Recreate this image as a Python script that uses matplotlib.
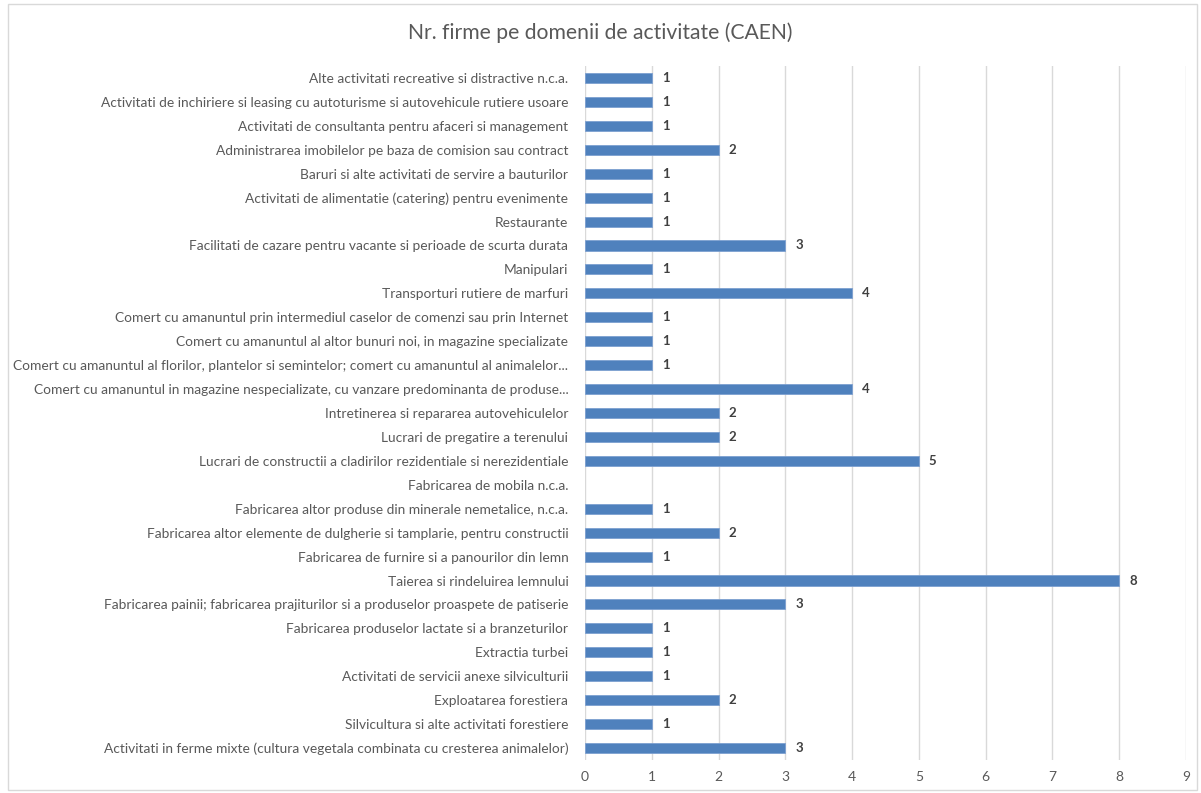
import matplotlib.pyplot as plt
from matplotlib.patches import Rectangle

# ── Data (top to bottom as in the chart) ───────────────────────────────────────
categories = [
    "Alte activitati recreative si distractive n.c.a.",
    "Activitati de inchiriere si leasing cu autoturisme si autovehicule rutiere usoare",
    "Activitati de consultanta pentru afaceri si management",
    "Administrarea imobilelor pe baza de comision sau contract",
    "Baruri si alte activitati de servire a bauturilor",
    "Activitati de alimentatie (catering) pentru evenimente",
    "Restaurante",
    "Facilitati de cazare pentru vacante si perioade de scurta durata",
    "Manipulari",
    "Transporturi rutiere de marfuri",
    "Comert cu amanuntul prin intermediul caselor de comenzi sau prin Internet",
    "Comert cu amanuntul al altor bunuri noi, in magazine specializate",
    "Comert cu amanuntul al florilor, plantelor si semintelor; comert cu amanuntul al animalelor...",
    "Comert cu amanuntul in magazine nespecializate, cu vanzare predominanta de produse...",
    "Intretinerea si repararea autovehiculelor",
    "Lucrari de pregatire a terenului",
    "Lucrari de constructii a cladirilor rezidentiale si nerezidentiale",
    "Fabricarea de mobila n.c.a.",
    "Fabricarea altor produse din minerale nemetalice, n.c.a.",
    "Fabricarea altor elemente de dulgherie si tamplarie, pentru constructii",
    "Fabricarea de furnire si a panourilor din lemn",
    "Taierea si rindeluirea lemnului",
    "Fabricarea painii; fabricarea prajiturilor si a produselor proaspete de patiserie",
    "Fabricarea produselor lactate si a branzeturilor",
    "Extractia turbei",
    "Activitati de servicii anexe silviculturii",
    "Exploatarea forestiera",
    "Silvicultura si alte activitati forestiere",
    "Activitati in ferme mixte (cultura vegetala combinata cu cresterea animalelor)",
]
values = [1, 1, 1, 2, 1, 1, 1, 3, 1, 4, 1, 1, 1, 4, 2, 2, 5, None, 1, 2, 1, 8, 3, 1, 1, 1, 2, 1, 3]
x_ticks = list(range(0, 10))

BAR_COLOR = '#4F81BD'
TEXT_COLOR = '#595959'

plt.rcParams['font.family'] = ['Lato', 'DejaVu Sans']

fig = plt.figure(figsize=(12.01, 7.93), dpi=100)
ax = fig.add_axes([585 / 1201, 1 - 760 / 793, (1186 - 585) / 1201, (760 - 66) / 793])

# chart border
fig.patches.append(Rectangle((8 / 1201, 3 / 793), 1189 / 1201, 786 / 793,
                             transform=fig.transFigure, fill=False,
                             edgecolor='#d9d9d9', lw=1))

n = len(categories)
ypos = list(range(n - 1, -1, -1))
for y, v in zip(ypos, values):
    if v is None:
        continue
    ax.barh(y, v, height=0.42, color=BAR_COLOR, edgecolor='#7da0d0', lw=0.6, zorder=3)
    ax.text(v + 0.15, y, str(v), va='center', ha='left', fontsize=9.5,
            fontweight='bold', color='#404040')

ax.set_xlim(0, 9)
ax.set_ylim(-0.5, n - 0.5)
ax.set_xticks(x_ticks)
ax.set_yticks(ypos)
ax.set_yticklabels(categories)
ax.tick_params(axis='y', length=0, pad=12, labelsize=9.9, labelcolor=TEXT_COLOR)
ax.tick_params(axis='x', length=0, pad=8, labelsize=10, labelcolor=TEXT_COLOR)
ax.grid(axis='x', color='#d9d9d9', lw=1, zorder=0)
for s in ax.spines.values():
    s.set_visible(False)

fig.text(0.5, 1 - 33 / 793, 'Nr. firme pe domenii de activitate (CAEN)',
         ha='center', va='center', fontsize=15.2, color=TEXT_COLOR)

fig.savefig('out.png', dpi=100)
